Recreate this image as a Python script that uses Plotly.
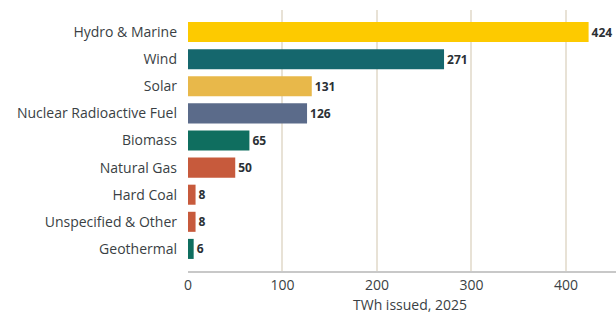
import plotly.graph_objects as go

categories = ["Hydro & Marine", "Wind", "Solar", "Nuclear Radioactive Fuel", "Biomass",
              "Natural Gas", "Hard Coal", "Unspecified & Other", "Geothermal"]
values = [424, 271, 131, 126, 65, 50, 8, 8, 6]
colors = ["#FDCA00", "#15676D", "#E8B84A", "#5B6B8A", "#0F6E5F",
          "#C75A3C", "#C75A3C", "#C75A3C", "#0F6E5F"]
x_ticks = [0, 100, 200, 300, 400]
x_title = "TWh issued, 2025"

fig = go.Figure(go.Bar(
    y=categories, x=values, orientation="h",
    marker=dict(color=colors, line=dict(width=0)),
    text=[str(v) for v in values], textposition="outside",
    textfont=dict(family="Open Sans", size=12, color="#2B3035", weight="bold"),
    cliponaxis=False,
))

fig.update_layout(
    width=616, height=313,
    margin=dict(l=188, r=0, t=10, b=42, autoexpand=False),
    paper_bgcolor="white", plot_bgcolor="white",
    bargap=0.26, showlegend=False,
    font=dict(family="Open Sans", size=14, color="#3A3F44"),
    xaxis=dict(range=[0, 453], tickvals=x_ticks, showgrid=True, gridcolor="#E8E2D6",
               gridwidth=1.5, zeroline=False, showline=True, linecolor="#C8C8C8",
               linewidth=2, ticks="", tickfont=dict(size=14), automargin=False),
    yaxis=dict(categoryorder="array", categoryarray=categories, autorange=False,
               range=[8.815, -0.815], showgrid=False, zeroline=False, showline=False,
               ticks="", ticklabelstandoff=10, tickfont=dict(size=14), automargin=False),
    annotations=[dict(text=x_title, xref="paper", yref="paper", x=0.519, y=-0.13,
                      xanchor="center", yanchor="middle", showarrow=False,
                      font=dict(size=14, color="#3A3F44"))],
)

fig.write_html("out.html", config={"displayModeBar": False},
               post_script="document.body.style.margin='0';document.body.style.padding='0';")
